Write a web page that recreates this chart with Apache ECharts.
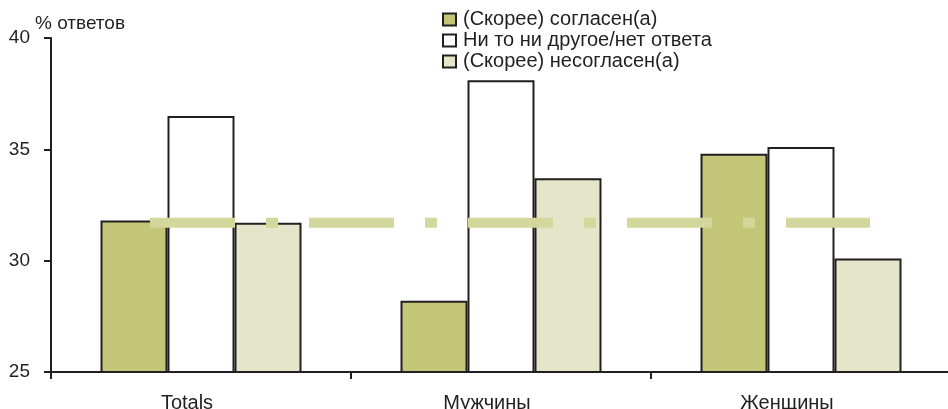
<!DOCTYPE html>
<html><head><meta charset="utf-8">
<script src="https://cdn.jsdelivr.net/npm/echarts@6/dist/echarts.min.js"></script>
<style>html,body{margin:0;padding:0;background:#fff}#c{width:948px;height:409px}</style>
</head><body><div id="c"></div>
<script>
const categories = ['Totals', 'Мужчины', 'Женщины'];
const seriesNames = ['(Скорее) согласен(а)', 'Ни то ни другое/нет ответа', '(Скорее) несогласен(а)'];
const agree = [31.8, 28.2, 34.8];
const neither = [36.5, 38.1, 35.1];
const disagree = [31.7, 33.7, 30.1];
const refLine = [31.7, 31.7];
const yTicks = [25, 30, 35, 40];
const yAxisTitle = '% ответов';

const dark = '#231f20';
const colors = ['#c4c677', '#ffffff', '#e5e6c9'];
const font = 'Liberation Sans, Arial, sans-serif';

const chart = echarts.init(document.getElementById('c'));
const barSeries = [agree, neither, disagree].map((d, i) => ({
  type: 'bar', name: seriesNames[i], data: d, xAxisIndex: 0, yAxisIndex: 0,
  barGap: '0%', barCategoryGap: '33%',
  itemStyle: { color: colors[i], borderColor: dark, borderWidth: 2 },
  z: 2
}));
chart.setOption({
  animation: false,
  title: { text: yAxisTitle, left: 30, top: 9, textStyle: { fontFamily: font, fontSize: 19, fontWeight: 'normal', color: dark } },
  legend: {
    data: seriesNames, orient: 'vertical', left: 442, top: 9, padding: 0, icon: 'rect',
    itemWidth: 13, itemHeight: 12, itemGap: 0,
    textStyle: { fontFamily: font, fontSize: 20, lineHeight: 21, color: dark, padding: [0, 0, 0, 2] },
    itemStyle: { borderColor: dark, borderWidth: 2 }
  },
  grid: [
    { left: 51, right: -3, top: 38, bottom: 37, outerBoundsMode: 'none', containLabel: false },
    { left: 150, right: 78, top: 38, bottom: 37, outerBoundsMode: 'none', containLabel: false }
  ],
  xAxis: [
    { type: 'category', data: categories, gridIndex: 0,
      axisLine: { lineStyle: { color: dark, width: 2 } },
      axisTick: { show: true, length: 7, lineStyle: { color: dark, width: 2 } },
      axisLabel: { fontFamily: font, fontSize: 20, color: dark, margin: 21, padding: [0, 28, 0, 0] } },
    { type: 'category', data: ['a', 'b'], gridIndex: 1, boundaryGap: false, show: false }
  ],
  yAxis: [
    { type: 'value', min: yTicks[0], max: yTicks[yTicks.length - 1], interval: 5, gridIndex: 0,
      axisLine: { show: true, lineStyle: { color: dark, width: 2 } },
      axisTick: { show: true, length: 7, lineStyle: { color: dark, width: 2 } },
      splitLine: { show: false },
      axisLabel: { fontFamily: font, fontSize: 19, color: dark, margin: 21 } },
    { type: 'value', min: yTicks[0], max: yTicks[yTicks.length - 1], gridIndex: 1, show: false }
  ],
  series: barSeries.concat([{
    type: 'line', name: 'avg', data: refLine, xAxisIndex: 1, yAxisIndex: 1,
    symbol: 'none', silent: true, z: 5,
    lineStyle: { color: '#d4d79c', width: 10, type: [85, 31, 12, 31], cap: 'butt' }
  }])
});
</script></body></html>
